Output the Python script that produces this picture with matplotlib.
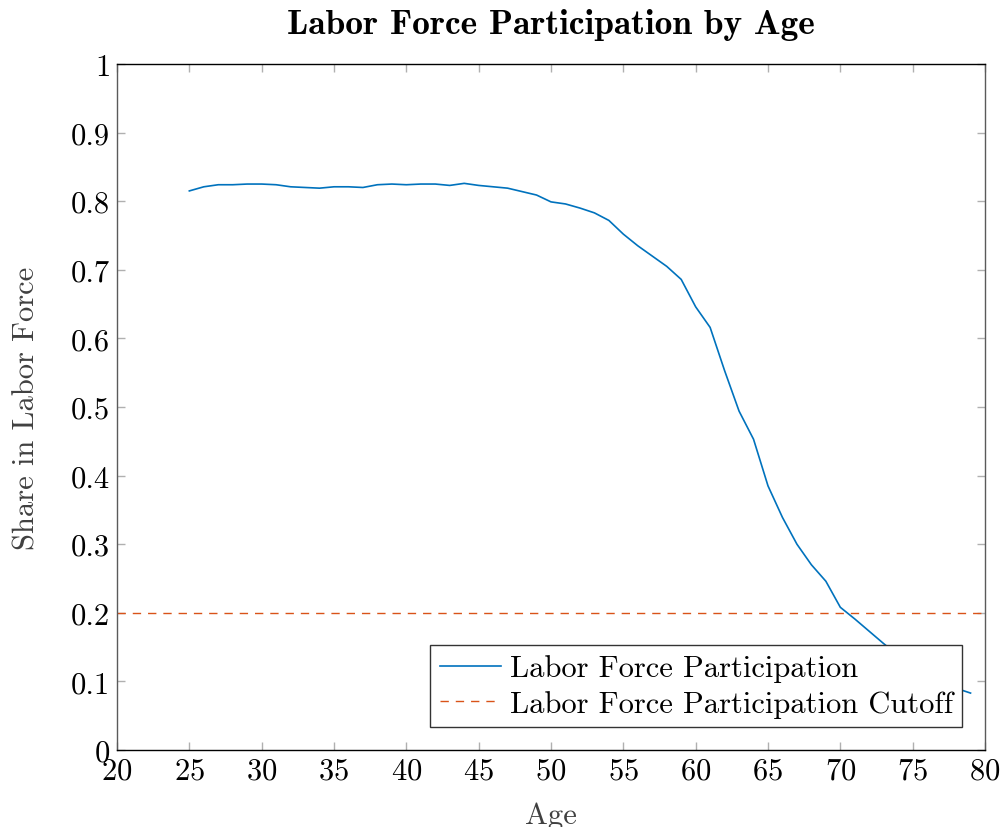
import matplotlib
matplotlib.use("Agg")
import matplotlib.pyplot as plt
from matplotlib.ticker import FuncFormatter

ages = list(range(25, 80))
participation = [
    0.815, 0.821, 0.824, 0.824, 0.825, 0.825, 0.824, 0.821, 0.820, 0.819,
    0.821, 0.821, 0.820, 0.824, 0.825, 0.824, 0.825, 0.825, 0.823, 0.826,
    0.823, 0.821, 0.819, 0.814, 0.809, 0.799, 0.796, 0.790, 0.783, 0.772,
    0.752, 0.735, 0.720, 0.705, 0.686, 0.646, 0.616, 0.553, 0.494, 0.453,
    0.385, 0.339, 0.300, 0.270, 0.246, 0.208, 0.191, 0.173, 0.155, 0.138,
    0.123, 0.110, 0.099, 0.090, 0.083,
]
cutoff = 0.2
x_range = [20, 80]
xticks = list(range(20, 81, 5))
yticks = [i / 10 for i in range(0, 11)]

plt.rcParams['font.family'] = ['cmr10', 'DejaVu Serif']
plt.rcParams['axes.formatter.use_mathtext'] = True

fig = plt.figure(figsize=(10.03, 8.28), dpi=100)
ax = fig.add_axes([117 / 1003, 1 - 751 / 828, (985 - 117) / 1003, (751 - 65) / 828])

ax.plot(ages, participation, color='#0072BD', lw=1.2, label='Labor Force Participation')
ax.plot(x_range, [cutoff, cutoff], color='#D95319', lw=1.0, ls=(0, (6, 5)),
        label='Labor Force Participation Cutoff')

ax.set_xlim(20, 80)
ax.set_ylim(0, 1)
ax.set_xticks(xticks)
ax.set_yticks(yticks)
ax.yaxis.set_major_formatter(FuncFormatter(lambda v, p: f"{v:g}"))
ax.tick_params(direction='in', length=6, width=1, color='#b0b0b0',
               labelsize=22, top=True, right=True, pad=5)
for s in ['top', 'bottom']:
    ax.spines[s].set_color('black')
for s in ['left', 'right']:
    ax.spines[s].set_color('#5a5a5a')
for s in ax.spines.values():
    s.set_linewidth(1.0)

ax.set_xlabel('Age', fontsize=22, color='#404040', labelpad=12)
ax.set_ylabel('Share in Labor Force', fontsize=22, color='#404040', labelpad=22)
ax.set_title('Labor Force Participation by Age', fontsize=25.5,
             family=['cmb10', 'DejaVu Serif'], pad=22)

leg = ax.legend(loc='lower right', fontsize=22, frameon=True, fancybox=False,
                edgecolor='#333333', framealpha=1, borderpad=0.3, labelspacing=0.25,
                handlelength=2.0, handletextpad=0.3, borderaxespad=0.75)
leg.get_frame().set_linewidth(1.0)

fig.savefig('out.png', dpi=100)
